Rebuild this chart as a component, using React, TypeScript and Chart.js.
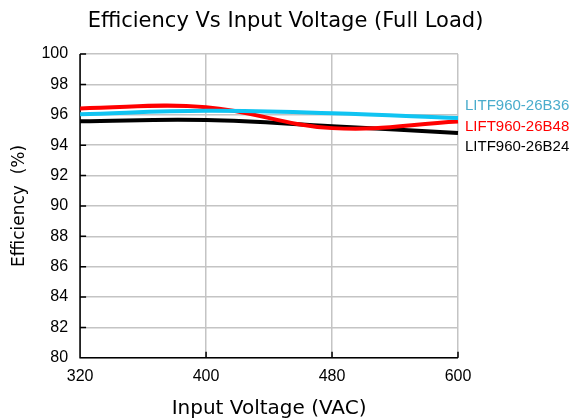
import React, { useEffect, useRef } from "react";
import { Chart, registerables } from "chart.js";

Chart.register(...registerables);

const voltages = ["320", "400", "480", "600"];
const seriesB36 = [96.04, 96.26, 96.1, 95.78];
const seriesB48 = [96.42, 96.5, 95.12, 95.55];
const seriesB24 = [95.58, 95.65, 95.25, 94.8];
const seriesNames = ["LITF960-26B36", "LIFT960-26B48", "LITF960-26B24"];
const labelAnchors = [96.58, 95.2, 93.87];
const lineColors = ["#10c4f2", "#ff0000", "#000000"];
const labelColors = ["#4aaccc", "#ff0000", "#000000"];
const chartTitle = "Efficiency Vs Input Voltage (Full Load)";

const FONT = "'DejaVu Sans', sans-serif";
const TICKFONT = "'Liberation Sans', Arial, sans-serif";

const sideLabels = {
  id: "sideLabels",
  afterDraw(chart: any) {
    const { ctx, chartArea } = chart;
    const y = chart.scales.y;
    ctx.save();
    ctx.font = `15px ${TICKFONT}`;
    ctx.textAlign = "left";
    ctx.textBaseline = "middle";
    seriesNames.forEach((n, i) => {
      ctx.fillStyle = labelColors[i];
      ctx.fillText(n, chartArea.right + 7, y.getPixelForValue(labelAnchors[i]));
    });
    ctx.font = `21px ${FONT}`;
    ctx.fillStyle = "#000";
    ctx.textAlign = "center";
    ctx.fillText(chartTitle, chart.width / 2, 22);
    ctx.restore();
  },
};

const innerTicks = {
  id: "innerTicks",
  beforeDatasetsDraw(chart: any) {
    const { ctx, chartArea } = chart;
    const xs = chart.scales.x;
    const ys = chart.scales.y;
    ctx.save();
    ctx.strokeStyle = "#000";
    ctx.lineWidth = 1.5;
    ctx.beginPath();
    ys.ticks.forEach((t: any) => {
      const py = ys.getPixelForValue(t.value);
      ctx.moveTo(chartArea.left, py);
      ctx.lineTo(chartArea.left + 6, py);
    });
    xs.ticks.forEach((_t: any, i: number) => {
      const px = xs.getPixelForValue(i);
      ctx.moveTo(px, chartArea.bottom);
      ctx.lineTo(px, chartArea.bottom - 6);
    });
    ctx.moveTo(chartArea.left, chartArea.top);
    ctx.lineTo(chartArea.left, chartArea.bottom);
    ctx.lineTo(chartArea.right, chartArea.bottom);
    ctx.stroke();
    ctx.restore();
  },
};

export default function App() {
  const ref = useRef<HTMLCanvasElement | null>(null);
  useEffect(() => {
    if (!ref.current) return;
    const chart = new Chart(ref.current, {
      type: "line",
      data: {
        labels: voltages,
        datasets: [seriesB36, seriesB48, seriesB24].map((d, i) => ({
          label: seriesNames[i],
          data: d,
          borderColor: lineColors[i],
          backgroundColor: lineColors[i],
          borderWidth: 4,
          pointRadius: 0,
          tension: 0.4,
          fill: false,
        })),
      },
      options: {
        animation: false,
        responsive: false,
        layout: { padding: { left: 9, right: 113, top: 54, bottom: -2 } },
        plugins: {
          legend: { display: false },
          tooltip: { enabled: false },
          title: { display: false },
        },
        scales: {
          x: {
            type: "category",
            offset: false,
            grid: { color: "#c4c4c4", lineWidth: 1.5, drawTicks: false },
            border: { display: false },
            ticks: { color: "#000", font: { family: TICKFONT, size: 16 }, padding: 9 },
            title: {
              display: true,
              text: "Input Voltage (VAC)",
              color: "#000",
              font: { family: FONT, size: 20 },
              padding: { top: 2, bottom: 0 },
            },
          },
          y: {
            min: 80,
            max: 100,
            grid: { color: "#c4c4c4", lineWidth: 1.5, drawTicks: false },
            border: { display: false },
            ticks: { stepSize: 2, color: "#000", font: { family: TICKFONT, size: 16 }, padding: 12 },
            title: {
              display: true,
              text: "Efficiency  (%)",
              color: "#000",
              font: { family: FONT, size: 17 },
              padding: { top: 0, bottom: 0 },
            },
          },
        },
      },
      plugins: [innerTicks, sideLabels],
    });
    return () => chart.destroy();
  }, []);
  return (
    <div style={{ position: "fixed", left: 0, top: 0, width: 571, height: 419, background: "#fff" }}>
      <canvas ref={ref} width={571} height={419} />
    </div>
  );
}
